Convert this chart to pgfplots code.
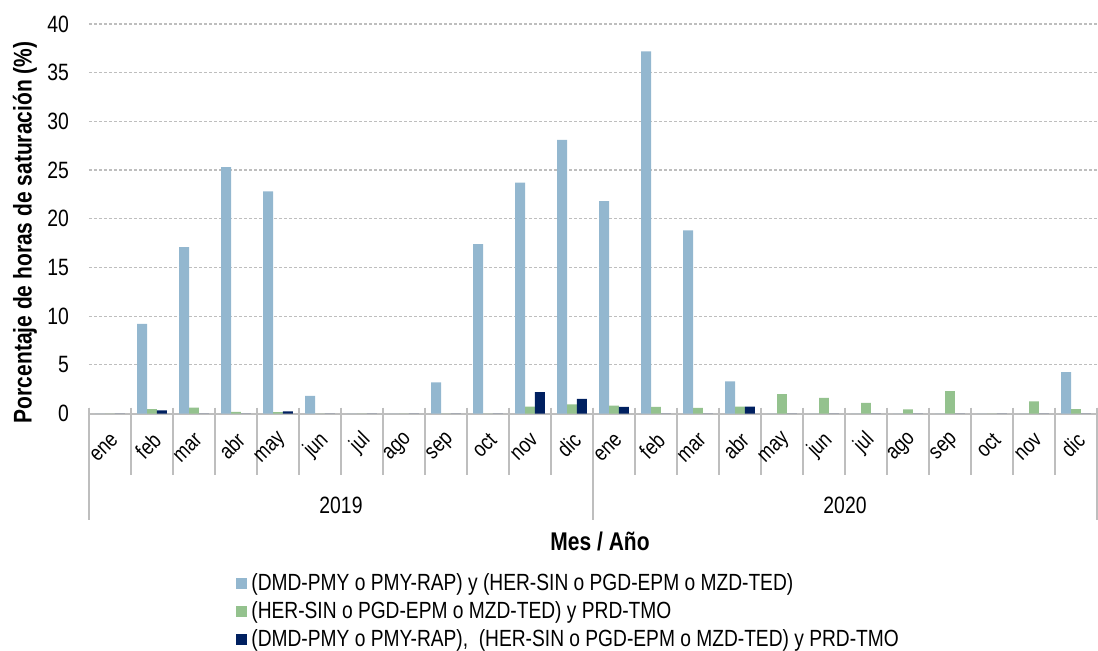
\documentclass[border=0pt]{standalone}
\usepackage{fontspec}
\setmainfont{Liberation Sans}[FakeStretch=0.82]
\usepackage{pgfplots}
\usepackage{pgfplotstable}
\pgfplotsset{compat=1.18}
\definecolor{cblue}{RGB}{147,183,207}
\definecolor{cgreen}{RGB}{148,194,142}
\definecolor{cnavy}{RGB}{0,32,96}
\definecolor{axgray}{RGB}{190,190,190}

% month index, then the three series (percent of hours)
\pgfplotstableread{
x  a     b     c
0  0     0     0
1  9.2   0.46  0.33
2  17.1  0.6   0
3  25.3  0.18  0
4  22.8  0.15  0.22
5  1.8   0     0
6  0     0     0
7  0     0     0
8  3.2   0     0
9  17.4  0     0
10 23.7  0.7   2.2
11 28.1  0.95  1.5
12 21.8  0.82  0.68
13 37.2  0.68  0
14 18.8  0.58  0
15 3.3   0.7   0.7
16 0     2.0   0
17 0     1.6   0
18 0     1.1   0
19 0     0.43  0
20 0     2.3   0
21 0     0     0
22 0     1.25  0
23 4.26  0.46  0
}\datatable

\pgfplotsset{sqlegend/.style={legend image code/.code={\fill[##1] (0pt,-2.75pt) rectangle (5.5pt,2.75pt);}}}

\begin{document}
\begin{tikzpicture}
% month and year dividers below the axis (axis starts at the origin, 21pt per month)
\foreach \k in {0,...,24}{
  \draw[axgray, line width=1pt] (\k*21pt,3pt) -- (\k*21pt,-30.75pt);
}
\foreach \k in {0,12,24}{
  \draw[axgray, line width=1pt] (\k*21pt,3pt) -- (\k*21pt,-53.25pt);
}
\node[font=\fontsize{11.8}{12}\selectfont] at (126pt,-45.75pt) {2019};
\node[font=\fontsize{11.8}{12}\selectfont] at (378pt,-45.75pt) {2020};
\begin{axis}[
    width=504pt, height=194.75pt, scale only axis,
    xmin=-0.5, xmax=23.5, ymin=0, ymax=40,
    ybar=0pt, bar width=0.237,
    clip=false,
    axis x line*=bottom, axis y line*=left,
    x axis line style={axgray, line width=1pt},
    y axis line style={draw=none},
    tick style={draw=none},
    ytick={0,5,...,40},
    xtick={0,...,23},
    xticklabels={ene,feb,mar,abr,may,jun,jul,ago,sep,oct,nov,dic,ene,feb,mar,abr,may,jun,jul,ago,sep,oct,nov,dic},
    x tick label style={rotate=45, anchor=east, yshift=-7pt, font=\fontsize{11}{12}\selectfont},
    y tick label style={xshift=-6.5pt, font=\fontsize{11.8}{12}\selectfont},
    /pgf/number format/assume math mode=true,
    ymajorgrids,
    major grid style={axgray, line width=0.6pt, dash pattern=on 1.5pt off 1pt},
    ylabel={\textbf{Porcentaje de horas de saturación (\%)}},
    ylabel style={at={(axis description cs:-0.0635,0.465)}, anchor=center, font=\fontsize{12.8}{14}\selectfont},
    xlabel={\textbf{Mes / Año}},
    xlabel style={at={(axis description cs:0.507,0)}, anchor=center, yshift=-63.75pt, font=\fontsize{12.8}{14}\selectfont},
    legend style={at={(axis description cs:0.1399,-0.39)}, anchor=north west, draw=none, fill=none,
        font=\fontsize{11.7}{12.5}\selectfont, row sep=0pt, cells={anchor=west}},
]
\addplot[fill=cblue, draw=none, sqlegend] table[x=x, y=a] {\datatable};
\addplot[fill=cgreen, draw=none, sqlegend] table[x=x, y=b] {\datatable};
\addplot[fill=cnavy, draw=none, sqlegend] table[x=x, y=c] {\datatable};
\legend{(DMD-PMY o PMY-RAP) y (HER-SIN o PGD-EPM o MZD-TED),
        (HER-SIN o PGD-EPM o MZD-TED) y PRD-TMO,
        {(DMD-PMY o PMY-RAP),\ \ (HER-SIN o PGD-EPM o MZD-TED) y PRD-TMO}}
\end{axis}
\pgfresetboundingbox
\path[use as bounding box] (-44.5pt,-118.25pt) rectangle (504.5pt,206.75pt);
\end{tikzpicture}
\end{document}
